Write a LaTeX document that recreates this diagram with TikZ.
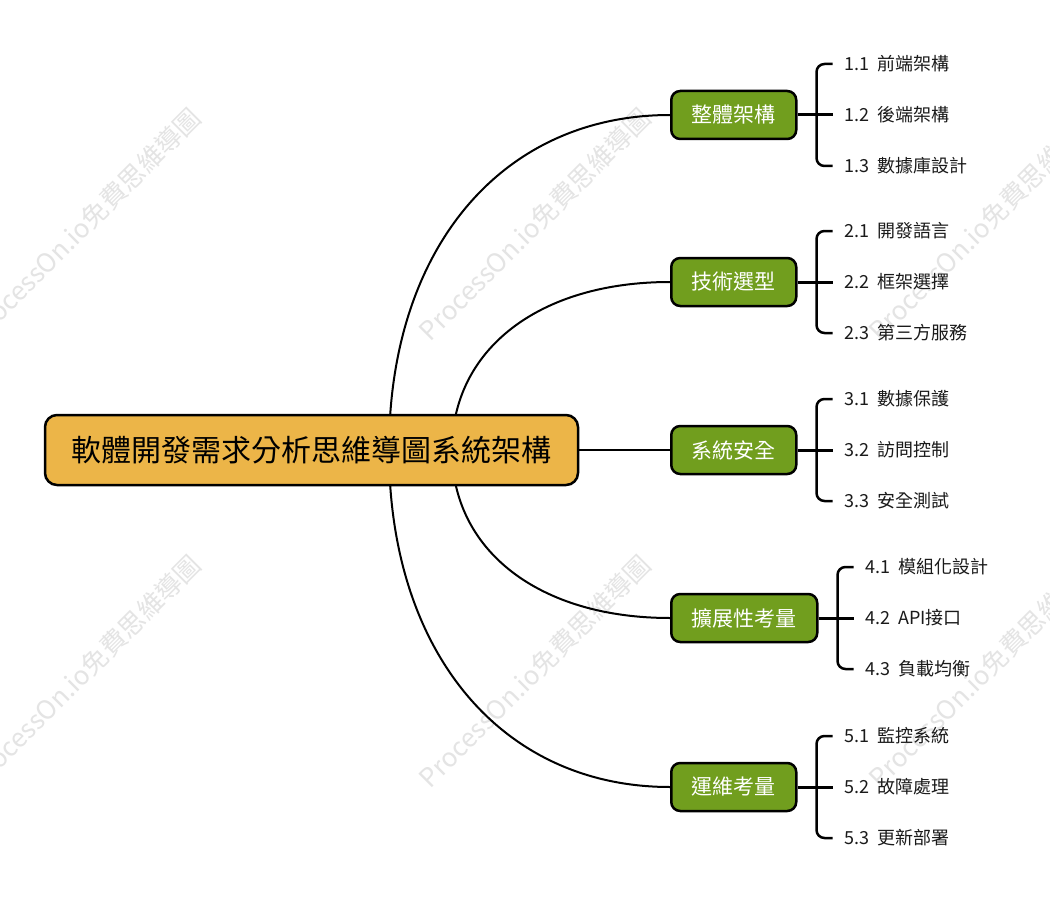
\documentclass[tikz,border=0pt]{standalone}
\usepackage{fontspec}
\setmainfont{Noto Sans CJK TC}
\usetikzlibrary{calc}
\definecolor{rootfill}{HTML}{ECB548}
\definecolor{branchfill}{HTML}{719E1E}
\definecolor{wmgray}{HTML}{E4E4E4}
\definecolor{leaftext}{HTML}{1A1A1A}
\newcommand\leaflabel[1]{\spaceskip=0.42em\relax #1}
\begin{document}
\begin{tikzpicture}[x=1pt,y=-1pt,
 rootbox/.style={draw=black, line width=2.5pt, fill=rootfill, rounded corners=12pt, minimum width=533pt, minimum height=70pt, font=\fontsize{30}{36}\selectfont, inner sep=0pt},
 branchbox/.style={draw=black, line width=2.5pt, fill=branchfill, rounded corners=9pt, minimum height=48pt, inner xsep=20.5pt, inner ysep=0pt, text=white, font=\fontsize{21}{25}\selectfont, anchor=west},
 leaf/.style={anchor=west, inner sep=0pt, font=\fontsize{18}{22}\selectfont, text=leaftext},
 curve/.style={line width=2pt},
 bracket/.style={line width=2.5pt, rounded corners=8pt},
 stem/.style={line width=3pt},
 wm/.style={rotate=45, text=wmgray, font=\fontsize{26}{30}\selectfont, inner sep=0pt}
]
\fill[white] (0,0) rectangle (1050,915);
\useasboundingbox (0,0) rectangle (1050,915);

% watermarks
\foreach \wx/\wy [count=\k] in {85/224, 535/224, 985/224, 85/671, 535/671, 985/671}
  \node[wm] (wm\k) at (\wx,\wy) {ProcessOn.io免費思維導圖};

% branch nodes and leaves
\foreach \i/\y/\t/\la/\lb/\lc in {
  1/115/整體架構/1.1 前端架構/1.2 後端架構/1.3 數據庫設計,
  2/282/技術選型/2.1 開發語言/2.2 框架選擇/2.3 第三方服務,
  3/450/系統安全/3.1 數據保護/3.2 訪問控制/3.3 安全測試,
  4/618/擴展性考量/4.1 模組化設計/4.2 API接口/4.3 負載均衡,
  5/787/運維考量/5.1 監控系統/5.2 故障處理/5.3 更新部署}{
  \node[branchbox] (b\i) at (670,\y) {\t};
  \node[leaf] (c\i a) at ($(b\i.east)+(47,-51)$) {\leaflabel{\la}};
  \node[leaf] (c\i b) at ($(b\i.east)+(47,0)$) {\leaflabel{\lb}};
  \node[leaf] (c\i c) at ($(b\i.east)+(47,51)$) {\leaflabel{\lc}};
  \draw[stem] (b\i.east) -- ($(c\i b.west)+(-12,0)$);
  \draw[bracket] ($(c\i a.west)+(-12,0)$) -| ($(b\i.east)+(19,0)$) |- ($(c\i c.west)+(-12,0)$);
}

% curve origins (hidden behind the root)
\coordinate (o) at (389,450);
\coordinate (i) at (452,450);
\draw[curve] (o) .. controls ($(o)!0.6!(o|-b1.west)$) and ($(b1.west)!0.6!(o|-b1.west)$) .. (b1.west);
\draw[curve] (i) .. controls ($(i)!0.6!(i|-b2.west)$) and ($(b2.west)!0.6!(i|-b2.west)$) .. (b2.west);
\draw[curve] (i) .. controls ($(i)!0.6!(i|-b4.west)$) and ($(b4.west)!0.6!(i|-b4.west)$) .. (b4.west);
\draw[curve] (o) .. controls ($(o)!0.6!(o|-b5.west)$) and ($(b5.west)!0.6!(o|-b5.west)$) .. (b5.west);

% root
\node[rootbox] (root) at (311.5,450) {軟體開發需求分析思維導圖系統架構};
\draw[curve] (root.east) -- (b3.west);
\end{tikzpicture}
\end{document}
